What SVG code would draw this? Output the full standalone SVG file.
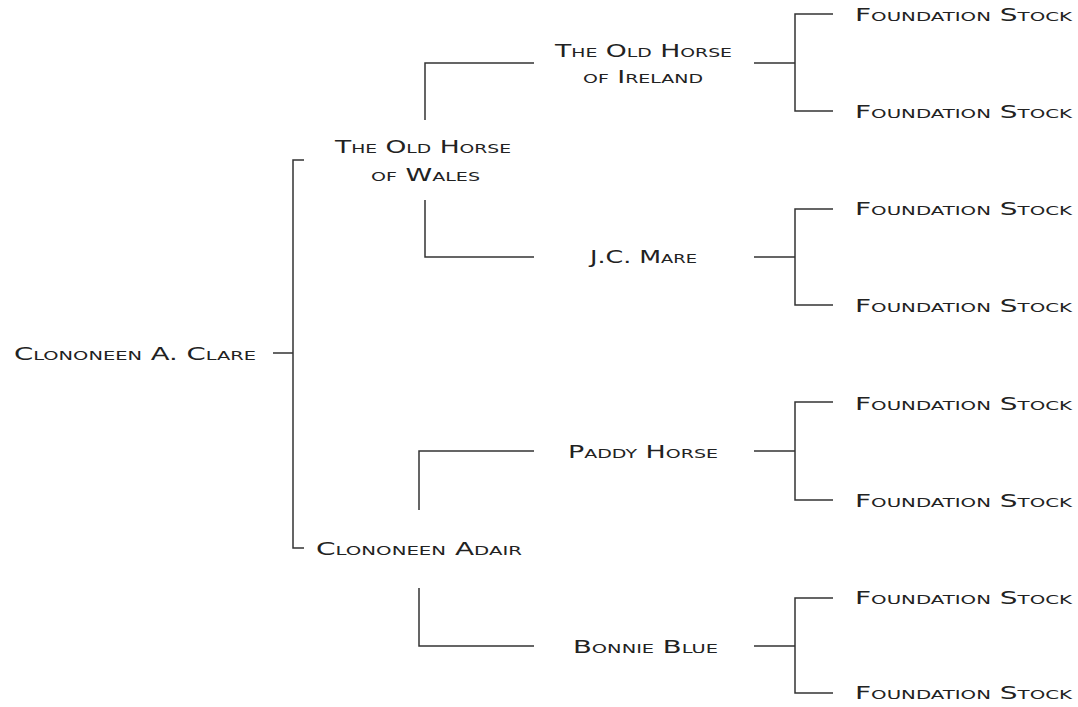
<svg xmlns="http://www.w3.org/2000/svg" width="1078" height="707" viewBox="0 0 1078 707">
<style>
.t{font-family:"DejaVu Sans","Liberation Sans",sans-serif;font-size:17px;font-variant:small-caps;fill:#222}
.c{fill:none;stroke:#333;stroke-width:1.5}
</style>
<rect width="1078" height="707" fill="#fff"/>
<g id="connectors">
<path class="c" d="M273,353H293M304,160H293V548H304"/>
<path class="c" d="M425,120V63H534M425,200V257H534"/>
<path class="c" d="M419,510V451H534M419,588V646H534"/>
<path class="c" d="M754,63H795M833,14H795V111H833"/>
<path class="c" d="M754,257H795M833,209H795V305H833"/>
<path class="c" d="M754,451H795M833,402H795V500H833"/>
<path class="c" d="M754,646H795M833,598H795V693H833"/>
</g>
<g id="root"><text class="t" x="14" y="360" textLength="242" lengthAdjust="spacingAndGlyphs">Clononeen A. Clare</text></g>
<g id="wales"><text class="t" x="335" y="153" textLength="176" lengthAdjust="spacingAndGlyphs">The Old Horse</text><text class="t" x="371" y="181" textLength="109" lengthAdjust="spacingAndGlyphs">of Wales</text></g>
<g id="adair"><text class="t" x="316" y="555" textLength="206" lengthAdjust="spacingAndGlyphs">Clononeen Adair</text></g>
<g id="ireland"><text class="t" x="555" y="57" textLength="177" lengthAdjust="spacingAndGlyphs">The Old Horse</text><text class="t" x="583" y="83" textLength="120" lengthAdjust="spacingAndGlyphs">of Ireland</text></g>
<g id="jcmare"><text class="t" x="590" y="263" textLength="107" lengthAdjust="spacingAndGlyphs">J.C. Mare</text></g>
<g id="paddy"><text class="t" x="568" y="458" textLength="150" lengthAdjust="spacingAndGlyphs">Paddy Horse</text></g>
<g id="bonnie"><text class="t" x="573" y="653" textLength="145" lengthAdjust="spacingAndGlyphs">Bonnie Blue</text></g>
<g id="fs1"><text class="t" x="855" y="21" textLength="217" lengthAdjust="spacingAndGlyphs">Foundation Stock</text></g>
<g id="fs2"><text class="t" x="855" y="118" textLength="217" lengthAdjust="spacingAndGlyphs">Foundation Stock</text></g>
<g id="fs3"><text class="t" x="855" y="215" textLength="217" lengthAdjust="spacingAndGlyphs">Foundation Stock</text></g>
<g id="fs4"><text class="t" x="855" y="312" textLength="217" lengthAdjust="spacingAndGlyphs">Foundation Stock</text></g>
<g id="fs5"><text class="t" x="855" y="410" textLength="217" lengthAdjust="spacingAndGlyphs">Foundation Stock</text></g>
<g id="fs6"><text class="t" x="855" y="507" textLength="217" lengthAdjust="spacingAndGlyphs">Foundation Stock</text></g>
<g id="fs7"><text class="t" x="855" y="604" textLength="217" lengthAdjust="spacingAndGlyphs">Foundation Stock</text></g>
<g id="fs8"><text class="t" x="855" y="699" textLength="217" lengthAdjust="spacingAndGlyphs">Foundation Stock</text></g>
</svg>
